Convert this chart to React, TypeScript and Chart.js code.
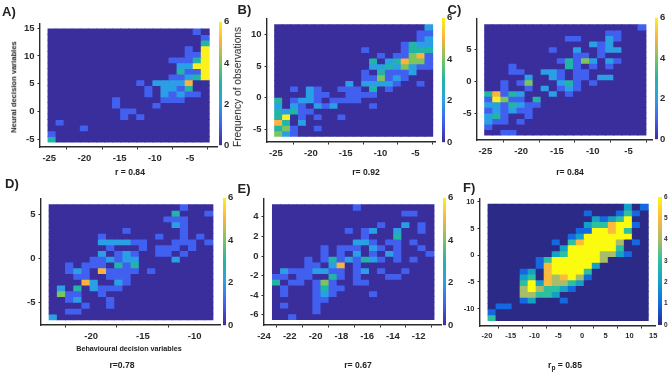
import React, { useEffect, useRef } from "react";
import { Chart, registerables } from "chart.js";

Chart.register(...registerables);

// Histogram counts: one object per row (top to bottom), mapping column index -> frequency.
const countsA: Record<number, number>[] = [
  { 18: 1 }, { 19: 1 }, { 19: 3 }, { 17: 1, 19: 6 }, { 17: 1, 18: 1, 19: 6 },
  { 15: 1, 16: 1, 17: 1, 18: 3, 19: 6 }, { 16: 2, 17: 2, 18: 6, 19: 6 }, { 16: 3, 17: 1, 18: 1, 19: 6 },
  { 15: 1, 16: 1, 17: 2, 18: 3, 19: 6 }, { 11: 1, 13: 2, 14: 2, 15: 2, 16: 2, 17: 5 },
  { 12: 1, 14: 2, 15: 2, 16: 1, 17: 3 }, { 12: 1, 14: 2, 15: 1, 16: 2, 17: 1, 18: 1 },
  { 8: 1, 14: 1, 15: 1, 16: 1 }, { 8: 1, 13: 1 }, { 9: 1, 10: 1 }, { 9: 1, 11: 1 },
  { 1: 1 }, { 4: 1 }, { 0: 1 }, { 0: 3 },
];
const countsB: Record<number, number>[] = [
  { 19: 2 }, { 18: 1, 19: 1 }, { 18: 1, 19: 2 }, { 16: 1, 17: 3, 18: 2, 19: 2 },
  { 11: 1, 16: 1, 17: 3, 18: 3, 19: 3 }, { 13: 1, 15: 1, 16: 1, 17: 4, 18: 5, 19: 1 },
  { 12: 3, 14: 2, 15: 3, 16: 5, 17: 4, 18: 4, 19: 1 }, { 12: 2, 13: 2, 14: 3, 15: 2, 16: 4, 17: 2, 18: 1, 19: 1 },
  { 11: 1, 13: 3, 14: 1, 15: 1, 16: 1, 17: 2 }, { 11: 1, 12: 1, 13: 4, 14: 1, 15: 2, 16: 1 },
  { 9: 2, 11: 2, 12: 2, 13: 2, 14: 2, 15: 1, 18: 1 }, { 2: 1, 4: 2, 5: 1, 8: 1, 9: 1, 10: 1, 12: 3, 14: 1 },
  { 4: 2, 5: 1, 6: 1, 9: 1, 10: 1, 11: 1, 12: 1 }, { 0: 3, 2: 1, 3: 2, 4: 2, 5: 1, 7: 1, 8: 1, 9: 1, 10: 1 },
  { 0: 2, 2: 2, 3: 1, 5: 2, 6: 1, 7: 2, 12: 1 }, { 0: 3, 1: 2, 2: 3, 3: 1, 4: 1 },
  { 0: 3, 1: 6, 3: 1, 5: 1, 8: 1 }, { 0: 5, 1: 3, 3: 2 }, { 0: 3, 1: 4, 2: 1, 5: 1 }, { 0: 4, 1: 2, 2: 1 },
];
const countsC: Record<number, number>[] = [
  { 19: 1 }, { 15: 1, 16: 1 }, { 10: 1, 11: 1, 15: 2, 16: 1 }, { 13: 2, 14: 1, 15: 2 },
  { 8: 1, 11: 2, 14: 1, 15: 2, 16: 2 }, { 11: 1, 12: 1, 14: 1 }, { 9: 1, 10: 3, 11: 1, 12: 4, 13: 2, 15: 2, 16: 1 },
  { 3: 1, 10: 3, 11: 1, 13: 1, 15: 1 }, { 3: 1, 4: 1, 7: 2, 8: 2, 9: 1, 11: 1, 12: 1 },
  { 5: 2, 8: 2, 9: 1, 11: 1, 12: 1, 14: 2, 15: 2 }, { 2: 1, 4: 1, 5: 4, 9: 2, 10: 3, 11: 1, 13: 1 },
  { 2: 1, 5: 1, 7: 2, 9: 1, 10: 2, 11: 1 }, { 0: 3, 1: 5, 2: 1, 3: 3, 4: 2, 8: 2, 10: 1 },
  { 0: 1, 1: 6, 2: 4, 3: 1, 4: 1, 6: 3 }, { 0: 2, 1: 2, 2: 1, 3: 3, 4: 2, 5: 1, 6: 1 },
  { 0: 1, 1: 2, 2: 1, 3: 2, 4: 1, 5: 1 }, { 0: 2, 1: 3, 2: 1, 5: 1 }, { 0: 2, 1: 1, 2: 1, 4: 1 },
  { 0: 1 }, { 2: 1, 3: 1 },
];
const countsD: Record<number, number>[] = [
  { 16: 1 }, { 15: 3, 19: 1 }, { 14: 1, 15: 1, 16: 1 }, { 15: 2, 16: 1 }, { 9: 1, 16: 1 },
  { 6: 1, 13: 1, 16: 1, 18: 1 }, { 6: 2, 7: 2, 8: 2, 9: 2, 10: 1, 11: 1, 15: 1, 16: 1, 17: 1, 19: 1 },
  { 7: 1, 11: 1, 13: 1, 14: 1, 15: 1, 17: 1 }, { 6: 2, 8: 1, 9: 2, 10: 1, 13: 1, 14: 1, 16: 1 },
  { 5: 1, 6: 1, 7: 2, 8: 1, 9: 2, 10: 2, 15: 2 }, { 2: 1, 4: 1, 5: 1, 6: 1, 8: 3, 9: 1, 10: 3 },
  { 2: 1, 3: 2, 4: 1, 6: 5, 7: 1, 8: 1, 9: 1, 10: 1, 12: 1 }, { 3: 1, 4: 1, 7: 1, 8: 1, 9: 1 },
  { 4: 5, 5: 2, 8: 2, 9: 1 }, { 1: 2, 3: 3, 5: 2, 6: 1, 7: 1, 8: 1 }, { 1: 4, 2: 1, 3: 1, 6: 1 },
  { 2: 1, 3: 2, 7: 1 }, { 4: 1, 7: 1 }, { 2: 1, 3: 1 }, { 0: 2 },
];
const countsE: Record<number, number>[] = [
  { 10: 1 }, { 16: 1, 17: 1 }, {}, { 13: 1, 16: 2, 18: 1 }, { 9: 1, 11: 1, 12: 2, 15: 2, 18: 1 },
  { 11: 1, 15: 3 }, { 10: 2, 11: 2, 12: 1, 14: 1, 15: 1, 17: 1 }, { 6: 1, 8: 1, 9: 1, 10: 1, 12: 2, 13: 1, 15: 1, 18: 1 },
  { 6: 1, 8: 1, 10: 2, 12: 1, 14: 2, 15: 1, 19: 1 }, { 4: 1, 6: 1, 7: 3, 8: 1, 9: 2, 10: 1, 11: 3, 12: 2, 13: 1, 15: 1, 17: 1 },
  { 4: 1, 5: 1, 7: 2, 8: 5, 10: 1 }, { 1: 2, 2: 1, 3: 1, 4: 1, 5: 2, 6: 2, 7: 1, 8: 1, 10: 1, 11: 2, 13: 1, 16: 1 },
  { 0: 1, 1: 1, 3: 1, 4: 1, 7: 3, 8: 1, 10: 1, 14: 1, 15: 1 }, { 0: 3, 2: 1, 3: 1, 5: 1, 6: 4, 7: 1, 10: 1, 11: 1 },
  { 1: 1, 5: 1, 6: 3, 7: 1, 8: 1 }, { 1: 1, 5: 1, 6: 2, 7: 1, 12: 1 }, { 5: 1, 6: 1 }, { 1: 1, 5: 1 }, { 5: 1 }, { 2: 1 },
];
const countsF: Record<number, number>[] = [
  { 17: 2, 19: 1 }, { 12: 1, 16: 1, 17: 3, 18: 1 }, { 13: 2, 14: 1, 15: 2, 16: 3, 17: 6 },
  { 12: 2, 13: 3, 14: 3, 15: 5, 16: 6, 17: 6, 18: 1 }, { 11: 1, 12: 1, 13: 6, 14: 6, 15: 5, 16: 6, 17: 3 },
  { 10: 1, 11: 2, 12: 6, 13: 6, 14: 6, 15: 6, 16: 6, 17: 6 }, { 8: 1, 10: 3, 11: 5, 12: 6, 13: 6, 14: 6, 15: 6, 16: 4, 18: 1 },
  { 9: 2, 10: 6, 11: 6, 12: 6, 13: 6, 14: 6, 15: 6, 16: 3 }, { 8: 2, 9: 3, 10: 6, 11: 6, 12: 6, 13: 6, 14: 4, 15: 4, 16: 2, 17: 1 },
  { 6: 1, 7: 3, 8: 6, 9: 6, 10: 6, 11: 6, 12: 6, 13: 6, 14: 4 }, { 6: 1, 7: 5, 8: 6, 9: 6, 10: 6, 11: 6, 12: 6, 13: 2 },
  { 4: 1, 5: 2, 7: 5, 8: 6, 9: 6, 10: 6, 11: 6, 12: 3 }, { 4: 2, 5: 3, 7: 5, 8: 4, 9: 5, 10: 6, 11: 4, 12: 1 },
  { 4: 3, 5: 6, 6: 2, 7: 5, 8: 4, 9: 4, 10: 3, 11: 2 }, { 4: 4, 5: 6, 6: 4, 7: 3, 8: 3, 9: 2, 10: 1 },
  { 4: 4, 5: 4, 6: 3, 7: 3, 8: 2 }, { 4: 1, 5: 2, 9: 1 }, { 1: 1, 2: 1 }, { 0: 1 }, { 0: 3 },
];

const parula = ["#3a2e9c", "#4260f0", "#2b9fe6", "#22b5a6", "#7cc45e", "#fbb33d", "#fbf11f"];
const darkParula = ["#2b2a86", "#1469e0", "#15a0c8", "#2ebfa0", "#a8bd68", "#fcba3d", "#fbfb10"];

const FONT = '"Liberation Sans",Arial,sans-serif';
const TEXT = '"Liberation Sans",Arial,sans-serif';
const INK = "#2b2b2b";
const BINS = 20;

type Panel = {
  counts: Record<number, number>[];
  colors: string[];
  box: number[];      // axes box in page pixels: left, top, right, bottom
  xRange: number[];
  yRange: number[];
  xEdges: number[];
  yEdges: number[];   // top, bottom
  xStep: number;
  yStep: number;
  tickSize: number;
  bar: number[];      // colour bar: left, top, right, bottom
  barStep: number;
  barTickSize: number;
};

const panels: Panel[] = [
  { counts: countsA, colors: parula, box: [40, 21.5, 217, 146], xRange: [-26.32, -1.16], yRange: [-6.37, 15.8],
    xEdges: [-25.19, -2.26], yEdges: [14.88, -5.5], xStep: 5, yStep: 5, tickSize: 9.5,
    bar: [218.7, 21, 221.5, 146], barStep: 2, barTickSize: 9.5 },
  { counts: countsB, colors: parula, box: [266.7, 17.3, 435, 142.7], xRange: [-26.29, -2.18], yRange: [-7.02, 12.49],
    xEdges: [-25.2, -2.5], yEdges: [11.56, -6.14], xStep: 5, yStep: 5, tickSize: 9.5,
    bar: [442, 17, 445, 143], barStep: 2, barTickSize: 9.5 },
  { counts: countsC, colors: parula, box: [476.7, 16.7, 651.7, 139.3], xRange: [-26.16, -1.73], yRange: [-9.18, 9.8],
    xEdges: [-25.1, -2.57], yEdges: [8.87, -8.41], xStep: 5, yStep: 5, tickSize: 9.5,
    bar: [655, 17, 657.5, 140], barStep: 2, barTickSize: 9.5 },
  { counts: countsD, colors: parula, box: [41.3, 197.3, 220, 325.7], xRange: [-24.84, -7.55], yRange: [-7.58, 6.84],
    xEdges: [-24.06, -8.23], yEdges: [6.17, -6.98], xStep: 5, yStep: 5, tickSize: 9.5,
    bar: [222.7, 197, 225.7, 326], barStep: 2, barTickSize: 9.5 },
  { counts: countsE, colors: parula, box: [264.3, 197.3, 441, 325.7], xRange: [-24, -10.27], yRange: [-7.04, 5.85],
    xEdges: [-23.35, -10.81], yEdges: [5.24, -6.5], xStep: 2, yStep: 2, tickSize: 9.5,
    bar: [443, 197, 446, 326], barStep: 2, barTickSize: 9.5 },
  { counts: countsF, colors: darkParula, box: [480.3, 198, 655.7, 325.7], xRange: [-21.47, 15.38], yRange: [-13.25, 10.62],
    xEdges: [-19.79, 13.97], yEdges: [9.55, -12.24], xStep: 5, yStep: 5, tickSize: 7.5,
    bar: [658, 197, 662, 325], barStep: 1, barTickSize: 6.5 },
];

type Label = { t: React.ReactNode; x: number; y: number; size: number; bold?: boolean; rot?: boolean; left?: boolean };
const labels: Label[] = [
  { t: "A)", x: 2, y: 10.5, size: 13, bold: true, left: true },
  { t: "B)", x: 237.5, y: 8.5, size: 13, bold: true, left: true },
  { t: "C)", x: 447.5, y: 8.5, size: 13, bold: true, left: true },
  { t: "D)", x: 5, y: 183, size: 13, bold: true, left: true },
  { t: "E)", x: 237.5, y: 188, size: 13, bold: true, left: true },
  { t: "F)", x: 463, y: 187, size: 13, bold: true, left: true },
  { t: "Neural decision variables", x: 13.5, y: 87, size: 7.6, bold: true, rot: true },
  { t: "Frequency of observations", x: 238, y: 87, size: 10.2, rot: true },
  { t: "Behavioural decision variables", x: 129, y: 349, size: 7.2, bold: true },
  { t: "r = 0.84", x: 130, y: 172, size: 8.6, bold: true },
  { t: "r= 0.92", x: 366, y: 172, size: 8.6, bold: true },
  { t: "r= 0.84", x: 570, y: 172, size: 8.6, bold: true },
  { t: "r=0.78", x: 122, y: 365, size: 8.6, bold: true },
  { t: "r= 0.67", x: 358, y: 365, size: 8.6, bold: true },
  { t: <span>r<sub style={{ fontSize: 6.5, lineHeight: 0 }}>p</sub> = 0.85</span>, x: 565, y: 365, size: 8.6, bold: true },
];

function buildHeatmap(canvas: HTMLCanvasElement, p: Panel, left: number, top: number, width: number, height: number) {
  const dx = (p.xEdges[1] - p.xEdges[0]) / BINS;
  const dy = (p.yEdges[0] - p.yEdges[1]) / p.counts.length;
  const columns = Array.from({ length: BINS }, (_, c) => c);
  const datasets = p.counts.map((row, r) => {
    const hi = p.yEdges[0] - r * dy;
    return {
      label: "row " + r,
      data: columns.map((c) => ({ x: p.xEdges[0] + (c + 0.5) * dx, y: [hi - dy, hi] })),
      backgroundColor: columns.map((c) => p.colors[row[c] ?? 0]),
      borderWidth: 0,
      grouped: false,
      categoryPercentage: 1,
      barPercentage: 1,
      inflateAmount: 0.4,
    };
  });
  const yWidth = p.box[0] - left;
  const xHeight = top + height - p.box[3];
  const axisCommon = {
    border: { color: INK, width: 1.4 },
    grid: { drawOnChartArea: false, color: INK, tickLength: 2.5, tickWidth: 1 },
  };
  const ticks = (step: number) => ({
    stepSize: step,
    includeBounds: false,
    autoSkip: false,
    maxRotation: 0,
    padding: 3,
    color: INK,
    font: { family: FONT, size: p.tickSize, weight: "bold" as const },
  });
  return new Chart(canvas, {
    type: "bar",
    data: { datasets: datasets as any },
    options: {
      responsive: false,
      animation: false,
      layout: { padding: { left: 0, top: p.box[1] - top, right: left + width - p.box[2], bottom: 0 } },
      plugins: { legend: { display: false }, tooltip: { enabled: false } },
      scales: {
        x: {
          type: "linear", min: p.xRange[0], max: p.xRange[1], offset: false,
          ...axisCommon, ticks: ticks(p.xStep),
          afterFit: (s: any) => { s.height = xHeight; },
        },
        y: {
          type: "linear", min: p.yRange[0], max: p.yRange[1],
          ...axisCommon, ticks: ticks(p.yStep),
          afterFit: (s: any) => { s.width = yWidth; },
        },
      },
    } as any,
  });
}

function buildColorbar(canvas: HTMLCanvasElement, p: Panel, left: number, top: number, width: number, height: number) {
  return new Chart(canvas, {
    type: "bar",
    data: {
      labels: ["frequency"],
      datasets: [{
        data: [[0, 6]],
        borderWidth: 0,
        categoryPercentage: 1,
        barPercentage: 1,
        backgroundColor: (ctx: any) => {
          const area = ctx.chart.chartArea;
          if (!area) return p.colors[0];
          const g = ctx.chart.ctx.createLinearGradient(0, area.bottom, 0, area.top);
          p.colors.forEach((c, i) => g.addColorStop(i / (p.colors.length - 1), c));
          return g;
        },
      }] as any,
    },
    options: {
      responsive: false,
      animation: false,
      layout: { padding: { left: p.bar[0] - left, top: p.bar[1] - top, right: 0, bottom: top + height - p.bar[3] } },
      plugins: { legend: { display: false }, tooltip: { enabled: false } },
      scales: {
        x: { display: false },
        y: {
          position: "right", min: 0, max: 6,
          border: { display: false },
          grid: { display: false, drawTicks: false },
          ticks: {
            stepSize: p.barStep, padding: 2, color: INK,
            font: { family: FONT, size: p.barTickSize, weight: "bold" },
          },
          afterFit: (s: any) => { s.width = left + width - p.bar[2]; },
        },
      },
    } as any,
  });
}

function Frame({ p, kind }: { p: Panel; kind: "heat" | "bar" }) {
  const ref = useRef<HTMLCanvasElement>(null);
  const r = kind === "heat"
    ? { left: p.box[0] - 30, top: p.box[1] - 7, width: p.box[2] - p.box[0] + 42, height: p.box[3] - p.box[1] + 27 }
    : { left: p.bar[0] - 1, top: p.bar[1] - 7, width: p.bar[2] - p.bar[0] + 15, height: p.bar[3] - p.bar[1] + 14 };
  useEffect(() => {
    const make = kind === "heat" ? buildHeatmap : buildColorbar;
    const chart = make(ref.current!, p, r.left, r.top, r.width, r.height);
    return () => chart.destroy();
  }, []);
  return (
    <canvas
      ref={ref}
      width={Math.round(r.width)}
      height={Math.round(r.height)}
      style={{ position: "absolute", left: r.left, top: r.top, width: Math.round(r.width), height: Math.round(r.height) }}
    />
  );
}

export default function App() {
  return (
    <div style={{ position: "fixed", left: 0, top: 0, width: 668, height: 374, overflow: "hidden", background: "#fff" }}>
      {panels.map((p, i) => <Frame key={"h" + i} p={p} kind="heat" />)}
      {panels.map((p, i) => <Frame key={"b" + i} p={p} kind="bar" />)}
      {labels.map((l, i) => (
        <div
          key={i}
          style={{
            position: "absolute",
            left: l.x,
            top: l.y,
            transform: l.rot ? "translate(-50%,-50%) rotate(-90deg)" : l.left ? "translateY(-50%)" : "translate(-50%,-50%)",
            fontFamily: TEXT,
            fontSize: l.size,
            fontWeight: l.bold ? 700 : 400,
            color: "#222",
            whiteSpace: "nowrap",
            lineHeight: 1,
          }}
        >
          {l.t}
        </div>
      ))}
    </div>
  );
}
